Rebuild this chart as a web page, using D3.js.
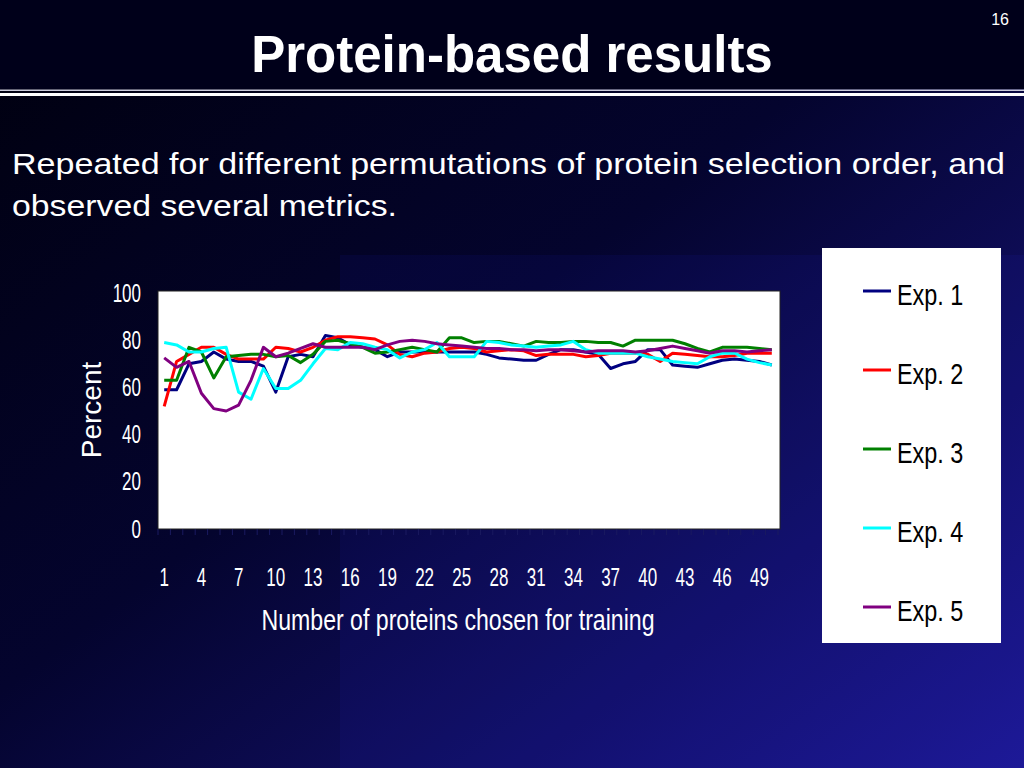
<!DOCTYPE html>
<html>
<head>
<meta charset="utf-8">
<script src="https://cdn.jsdelivr.net/npm/d3@7"></script>
<style>
  html, body { margin: 0; padding: 0; background: #000010; }
  svg { display: block; }
</style>
</head>
<body>
<div id="chart"></div>
<script>
// x categories: number of proteins chosen (1..50)
const proteins = d3.range(1, 51);
const xTickLabels = [1, 4, 7, 10, 13, 16, 19, 22, 25, 28, 31, 34, 37, 40, 43, 46, 49];
const yTickLabels = [0, 20, 40, 60, 80, 100];

const exp1 = [59, 59, 70, 71, 75, 72, 71, 71, 69, 58, 73, 74, 73, 82, 81, 78, 77, 76, 73, 75,
  75, 75, 75, 75, 75, 75, 74, 72.5, 72, 71.5, 71.5, 74, 76, 76, 75, 74, 68, 70, 71, 76,
  76, 69.5, 69, 68.5, 70, 71.5, 72, 71.5, 71, 69.5];
const exp2 = [52, 71, 74, 77, 77, 74, 72, 72, 72, 77, 76.5, 75, 77, 80, 81.5, 81.5, 81, 80.5, 78, 74,
  73, 74.5, 75, 76.5, 77, 76.5, 75, 75.5, 76, 75.5, 73.5, 74, 74, 74, 73, 73.5, 74.5, 74.5, 74.5, 74,
  71, 74.5, 74, 73.5, 73, 73, 73.5, 74.5, 74.5, 74.5];
const exp3 = [63, 63, 77, 75, 64, 73, 73.5, 74, 74, 73, 73.5, 70.5, 74, 79.5, 80, 78.5, 77, 74.5, 75, 76,
  77, 76, 75, 81, 81, 79, 79.5, 79.5, 78.5, 77.5, 79.5, 79, 79, 79.5, 79.5, 79, 79, 77.5, 80, 80,
  80, 80, 78.5, 76.5, 75, 77, 77, 77, 76.5, 76];
const exp4 = [79, 78, 75, 75, 76.5, 77, 58, 55, 68, 59.5, 59.5, 63, 70, 76.5, 76, 79, 78.5, 77, 76, 72.5,
  75, 76, 79, 73, 73, 73, 79.5, 79, 78, 77.5, 77, 77.5, 78, 79.5, 76, 74.5, 74.5, 74.5, 74.5, 73,
  72, 71, 70.5, 70, 73, 74.5, 74.5, 72, 70.5, 69.5];
const exp5 = [72.5, 68.5, 71, 57.5, 51, 50, 52.5, 63, 77, 73, 74.5, 76.5, 78.5, 77, 77, 77, 77, 76, 78, 79.5,
  80, 79.5, 78.5, 78, 77.5, 77, 76.5, 76.5, 76, 76, 75.5, 76, 76, 75.5, 75, 75.5, 75.5, 75.5, 75, 75.5,
  76.5, 77.5, 76.5, 75.5, 74.5, 75.5, 75.5, 75, 75.5, 76];

const seriesNames = ['Exp. 1', 'Exp. 2', 'Exp. 3', 'Exp. 4', 'Exp. 5'];
const seriesValues = [exp1, exp2, exp3, exp4, exp5];
const seriesColors = ['#000080', '#ff0000', '#008000', '#00ffff', '#800080'];

const W = 1024, H = 768;
const svg = d3.select('#chart').append('svg')
  .attr('width', W)
  .attr('height', H);

// background
const defs = svg.append('defs');
const grad = defs.append('linearGradient')
  .attr('id', 'bg')
  .attr('x1', 0).attr('y1', 0).attr('x2', 1).attr('y2', 1);
grad.append('stop').attr('offset', '0%').attr('stop-color', '#00000e');
grad.append('stop').attr('offset', '45%').attr('stop-color', '#04042e');
grad.append('stop').attr('offset', '100%').attr('stop-color', '#1c1890');

svg.append('rect').attr('width', W).attr('height', H).attr('fill', 'url(#bg)');
svg.append('rect')
  .attr('x', 340).attr('y', 255).attr('width', W - 340).attr('height', H - 255)
  .attr('fill', '#2a2aff').attr('opacity', 0.07);

// title bar
svg.append('rect').attr('width', W).attr('height', 89).attr('fill', '#00001a');
svg.append('rect').attr('x', 0).attr('y', 89.5).attr('width', W).attr('height', 1.5).attr('fill', '#c8c8d8');
svg.append('rect').attr('x', 0).attr('y', 93).attr('width', W).attr('height', 3).attr('fill', '#ffffff');

svg.append('text')
  .attr('x', 512).attr('y', 72)
  .attr('text-anchor', 'middle')
  .attr('fill', '#fff')
  .style('font-family', '"Liberation Sans", Arial, sans-serif')
  .style('font-weight', 'bold')
  .style('font-size', '51px')
  .text('Protein-based results');

svg.append('text')
  .attr('x', 1009).attr('y', 25)
  .attr('text-anchor', 'end')
  .attr('fill', '#fff')
  .style('font-family', '"Liberation Sans", Arial, sans-serif')
  .style('font-size', '16px')
  .text('16');

const body = svg.append('g')
  .attr('fill', '#fff')
  .style('font-family', '"Liberation Sans", Arial, sans-serif')
  .style('font-size', '30px');
body.append('text').attr('x', 12).attr('y', 174)
  .attr('textLength', 993).attr('lengthAdjust', 'spacingAndGlyphs')
  .text('Repeated for different permutations of protein selection order, and');
body.append('text').attr('x', 12).attr('y', 216)
  .attr('textLength', 385).attr('lengthAdjust', 'spacingAndGlyphs')
  .text('observed several metrics.');

// squeeze text horizontally (chart fonts are narrow)
function condense(sel, f) {
  sel.each(function () {
    const w = this.getComputedTextLength();
    d3.select(this).attr('textLength', w * f).attr('lengthAdjust', 'spacingAndGlyphs');
  });
}

// scales
const margin = { left: 158, right: 778, top: 293, bottom: 529 };
const x = d3.scaleBand()
  .domain(proteins)
  .range([margin.left, margin.right]);
const y = d3.scaleLinear()
  .domain([0, 100])
  .range([margin.bottom, margin.top]);

// plot area
svg.append('rect')
  .attr('x', margin.left).attr('y', y(100) - 2)
  .attr('width', margin.right - margin.left + 2).attr('height', y(0) - y(100) + 2)
  .attr('fill', '#fff')
  .attr('stroke', '#222')
  .attr('stroke-width', 1);

// category ticks below the plot
svg.append('g')
  .selectAll('line')
  .data(proteins.concat([51]))
  .enter()
  .append('line')
  .attr('x1', d => d <= 50 ? x(d) : margin.right)
  .attr('x2', d => d <= 50 ? x(d) : margin.right)
  .attr('y1', y(0))
  .attr('y2', y(0) + 6)
  .attr('stroke', '#1a1a60')
  .attr('stroke-width', 1);

const tickFont = '"Liberation Sans", Arial, sans-serif';

const yAxis = svg.append('g')
  .attr('transform', `translate(${margin.left},0)`)
  .call(d3.axisLeft(y).tickValues(yTickLabels).tickSize(0).tickPadding(17));
yAxis.select('.domain').remove();
yAxis.selectAll('text')
  .attr('fill', '#fff')
  .style('font-family', tickFont)
  .style('font-size', '25px');
condense(yAxis.selectAll('text'), 0.68);

const xAxis = svg.append('g')
  .attr('transform', `translate(0,${y(0)})`)
  .call(d3.axisBottom(x).tickValues(xTickLabels).tickSize(0).tickPadding(39));
xAxis.select('.domain').remove();
xAxis.selectAll('text')
  .attr('fill', '#fff')
  .style('font-family', tickFont)
  .style('font-size', '25px');
condense(xAxis.selectAll('text'), 0.68);

// axis titles
const xTitle = svg.append('text')
  .attr('x', 458).attr('y', 630)
  .attr('text-anchor', 'middle')
  .attr('fill', '#fff')
  .style('font-family', tickFont)
  .style('font-size', '30px')
  .text('Number of proteins chosen for training');
xTitle.attr('textLength', 393).attr('lengthAdjust', 'spacingAndGlyphs');

svg.append('text')
  .attr('transform', `translate(101,410) rotate(-90)`)
  .attr('text-anchor', 'middle')
  .attr('fill', '#fff')
  .style('font-family', tickFont)
  .style('font-size', '28px')
  .text('Percent');

// lines
const line = d3.line()
  .x((d, i) => x(proteins[i]) + x.bandwidth() / 2)
  .y(d => y(d));

svg.append('g')
  .selectAll('path')
  .data(seriesValues)
  .enter()
  .append('path')
  .attr('d', d => line(d))
  .attr('fill', 'none')
  .attr('stroke', (d, i) => seriesColors[i])
  .attr('stroke-width', 3)
  .attr('stroke-linejoin', 'round');

// legend
svg.append('rect')
  .attr('x', 822).attr('y', 248)
  .attr('width', 179).attr('height', 395)
  .attr('fill', '#fff');

const legendY = d3.scalePoint()
  .domain(seriesNames)
  .range([291, 607]);

const legend = svg.append('g')
  .selectAll('g')
  .data(seriesNames)
  .enter()
  .append('g')
  .attr('transform', d => `translate(0,${legendY(d)})`);

legend.append('line')
  .attr('x1', 863).attr('x2', 891)
  .attr('stroke', (d, i) => seriesColors[i])
  .attr('stroke-width', 3);

const legendText = legend.append('text')
  .attr('x', 897).attr('y', 14)
  .attr('fill', '#000')
  .style('font-family', tickFont)
  .style('font-size', '30px')
  .text(d => d);
condense(legendText, 0.78);
</script>
</body>
</html>
